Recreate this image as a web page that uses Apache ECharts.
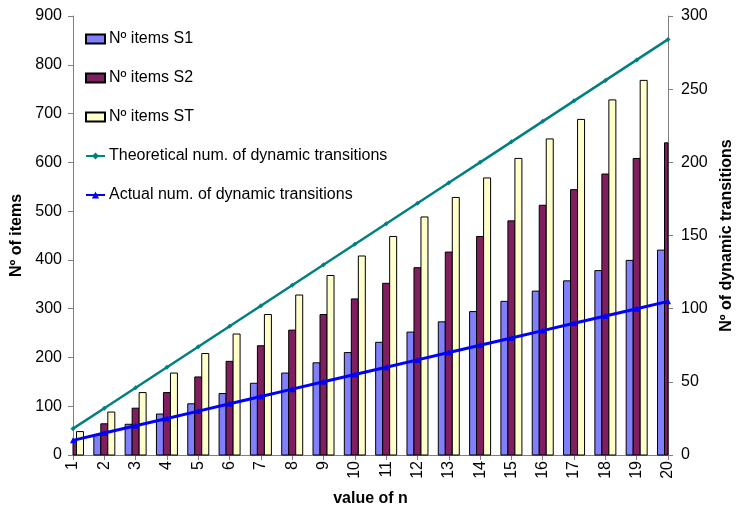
<!DOCTYPE html>
<html>
<head>
<meta charset="utf-8">
<script src="https://cdn.jsdelivr.net/npm/echarts@6/dist/echarts.min.js"></script>
<style>
html,body{margin:0;padding:0;background:#fff;}
#chart{width:736px;height:511px;}
</style>
</head>
<body>
<div id="chart"></div>
<script>
const categories = ['1','2','3','4','5','6','7','8','9','10','11','12','13','14','15','16','17','18','19','20'];
const itemsS1 = [21,42,63,84,105,126,147,168,189,210,231,252,273,294,315,336,357,378,399,420];
const itemsS2 = [32,64,96,128,160,192,224,256,288,320,352,384,416,448,480,512,544,576,608,640];
const itemsST = [48,88,128,168,208,248,288,328,368,408,448,488,528,568,608,648,688,728,768,808];
const theoretical = [18,32,46,60,74,88,102,116,130,144,158,172,186,200,214,228,242,256,270,284];
const actual = [10,15,20,25,30,35,40,45,50,55,60,65,70,75,80,85,90,95,100,105];
const leftTicks = {min:0, max:900, interval:100};
const rightTicks = {min:0, max:300, interval:50};

const font = 'Arial, "Liberation Sans", sans-serif';
const BAR_W = 7;
const chart = echarts.init(document.getElementById('chart'), null, {renderer:'canvas'});
const axisLineStyle = {color:'#808080', width:1};

function barSeries(name, values, slot, color) {
  return {
    name: name, type: 'custom', coordinateSystem: 'cartesian2d',
    data: values.map((v, i) => [i, v]),
    encode: {x: 0, y: 1},
    itemStyle: {color: color, borderColor: '#000', borderWidth: 1},
    renderItem: function (params, api) {
      const base = api.coord([api.value(0), 0]);
      const top = api.coord([api.value(0), api.value(1)]);
      const cs = params.coordSys;
      const rect = echarts.graphic.clipRectByRect({
        x: base[0] + slot * BAR_W - BAR_W / 2,
        y: top[1],
        width: BAR_W,
        height: base[1] - top[1]
      }, {x: cs.x, y: cs.y, width: cs.width, height: cs.height});
      return rect && {type: 'rect', shape: rect, style: api.style()};
    }
  };
}

chart.setOption({
  animation:false,
  backgroundColor:'#fff',
  grid:{left:73, right:68, top:16, bottom:56, containLabel:false, outerBoundsMode:'none'},
  legend:{
    orient:'vertical', left:85, top:31, padding:0, itemGap:23,
    itemWidth:19, itemHeight:9,
    textStyle:{fontFamily:font, fontSize:16, color:'#000', padding:[0,0,0,-1]},
    data:[
      {name:'Nº items S1', icon:'rect'},
      {name:'Nº items S2', icon:'rect'},
      {name:'Nº items ST', icon:'rect'},
      {name:'Theoretical num. of dynamic transitions'},
      {name:'Actual num. of dynamic transitions'}
    ]
  },
  xAxis:{
    type:'category', data:categories, boundaryGap:false,
    name:'value of n', nameLocation:'middle', nameGap:36,
    nameTextStyle:{fontFamily:font, fontSize:16, fontWeight:'bold', color:'#000'},
    axisLine:{lineStyle:axisLineStyle},
    axisTick:{show:true, length:5, lineStyle:axisLineStyle},
    axisLabel:{rotate:90, fontFamily:font, fontSize:16, color:'#000', margin:6, interval:0},
    splitLine:{show:false}
  },
  yAxis:[
    {
      type:'value', min:leftTicks.min, max:leftTicks.max, interval:leftTicks.interval,
      name:'Nº of items', nameLocation:'middle', nameGap:43,
      nameTextStyle:{fontFamily:font, fontSize:16, fontWeight:'bold', color:'#000'},
      axisLine:{show:true, lineStyle:axisLineStyle},
      axisTick:{show:true, length:5, lineStyle:axisLineStyle},
      axisLabel:{fontFamily:font, fontSize:16, color:'#000', margin:11},
      splitLine:{show:false}
    },
    {
      type:'value', min:rightTicks.min, max:rightTicks.max, interval:rightTicks.interval,
      name:'Nº of dynamic transitions', nameLocation:'middle', nameGap:50,
      nameRotate:90,
      nameTextStyle:{fontFamily:font, fontSize:16, fontWeight:'bold', color:'#000'},
      axisLine:{show:true, lineStyle:axisLineStyle},
      axisTick:{show:true, length:5, lineStyle:axisLineStyle},
      axisLabel:{fontFamily:font, fontSize:16, color:'#000', margin:13},
      splitLine:{show:false}
    }
  ],
  series:[
    barSeries('Nº items S1', itemsS1, -1, '#8080FF'),
    barSeries('Nº items S2', itemsS2, 0, '#7F1F5F'),
    barSeries('Nº items ST', itemsST, 1, '#FFFFCC'),
    {name:'Theoretical num. of dynamic transitions', type:'line', yAxisIndex:1, data:theoretical,
     symbol:'diamond', symbolSize:5, lineStyle:{color:'#008080', width:2.5},
     itemStyle:{color:'#008080'}, z:3},
    {name:'Actual num. of dynamic transitions', type:'line', yAxisIndex:1, data:actual,
     symbol:'triangle', symbolSize:6, lineStyle:{color:'#0000FF', width:3},
     itemStyle:{color:'#0000FF'}, z:3}
  ]
});
</script>
</body>
</html>
